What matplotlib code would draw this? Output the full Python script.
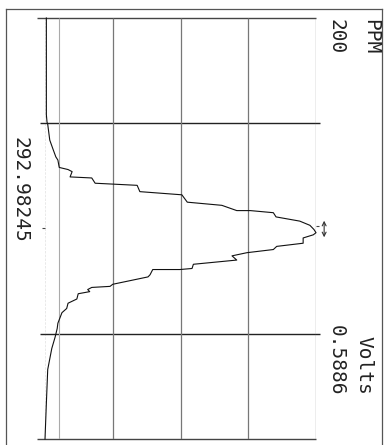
import matplotlib
matplotlib.use('Agg')
import matplotlib.pyplot as plt
from matplotlib.lines import Line2D

# trace, in grid divisions (position down the sweep, signal across)
position = [0.00, 0.92, 0.99, 1.01, 1.16, 1.25, 1.32, 1.35, 1.42, 1.44, 1.46, 1.51,
            1.52, 1.57, 1.59, 1.65, 1.68, 1.75, 1.78, 1.83, 1.83, 1.85, 1.89, 1.93,
            1.97, 2.01, 2.04, 2.06, 2.09, 2.14, 2.17, 2.20, 2.23, 2.26, 2.30, 2.34,
            2.38, 2.39, 2.39, 2.44, 2.46, 2.53, 2.55, 2.56, 2.58, 2.60, 2.62, 2.67,
            2.71, 2.76, 2.80, 2.90, 2.95, 3.03, 3.14, 3.34, 3.66, 4.00]
signal = [0.02, 0.02, 0.03, 0.04, 0.07, 0.12, 0.16, 0.19, 0.21, 0.34, 0.40, 0.37,
          0.69, 0.74, 1.36, 1.40, 2.02, 2.10, 2.61, 2.83, 3.03, 3.37, 3.41, 3.76,
          3.91, 3.97, 4.00, 3.96, 3.81, 3.81, 3.42, 3.37, 2.98, 2.76, 2.83, 2.19,
          2.17, 1.99, 1.59, 1.55, 1.52, 1.00, 0.96, 0.69, 0.63, 0.66, 0.49, 0.47,
          0.34, 0.32, 0.25, 0.19, 0.18, 0.15, 0.10, 0.04, 0.02, 0.00]

center_label = '292.98245'
sweep_label = ('PPM', '200')
scale_label = ('Volts', '0.5886')

fig = plt.figure(figsize=(3.86, 4.45), dpi=100)
ax = fig.add_axes([0.1166, 0.0135, 0.7021, 0.9461])
ax.set_xlim(0, 4)
ax.set_ylim(4, 0)
ax.axis('off')

# grid
for v in [0, 4]:
    ax.hlines(v, -0.12, 4.0, color='#444444', lw=1.0, clip_on=False)
for v in [1, 3]:
    ax.hlines(v, -0.07, 4.06, color='#222222', lw=1.0, clip_on=False)
for u in [1, 2, 3, 4]:
    ax.vlines(u, 0, 4, color='#777777', lw=0.9)
ax.vlines(0.2, 0, 4, color='#aaaaaa', lw=0.8)
ax.vlines(-0.01, 0, 4, color='#555555', lw=0.9, linestyles=(0, (2, 1)))
ax.hlines(2, -0.05, 0.0, color='#444444', lw=0.8, clip_on=False)
ax.hlines(1.98, 4.0, 4.05, color='#444444', lw=0.8, clip_on=False)

ax.plot(signal, position, color='#111111', lw=0.8, clip_on=False)

ax.annotate('', xy=(4.12, 1.90), xytext=(4.12, 2.11),
            arrowprops=dict(arrowstyle='<->', color='#333333', lw=0.8,
                            mutation_scale=7), annotation_clip=False)

# outer frame of the scan
fig.add_artist(Line2D([0.0155, 0.0155], [0.0, 0.9798], color='#555555', lw=0.9))
fig.add_artist(Line2D([0.0155, 0.9896], [0.9798, 0.9798], color='#555555', lw=0.9))
fig.add_artist(Line2D([0.9896, 0.9896], [0.0, 0.9798], color='#555555', lw=0.9))

font = dict(family='DejaVu Sans Mono', fontsize=14, rotation=-90, color='#222222')
fig.text(0.961, 0.957, sweep_label[0], ha='center', va='top', **font)
fig.text(0.871, 0.957, sweep_label[1], ha='center', va='top', **font)
fig.text(0.943, 0.112, scale_label[0], ha='center', va='bottom', **font)
fig.text(0.871, 0.112, scale_label[1], ha='center', va='bottom', **font)
fig.text(0.051, 0.573, center_label, ha='center', va='center', **font)

fig.savefig('out.png', dpi=100)
